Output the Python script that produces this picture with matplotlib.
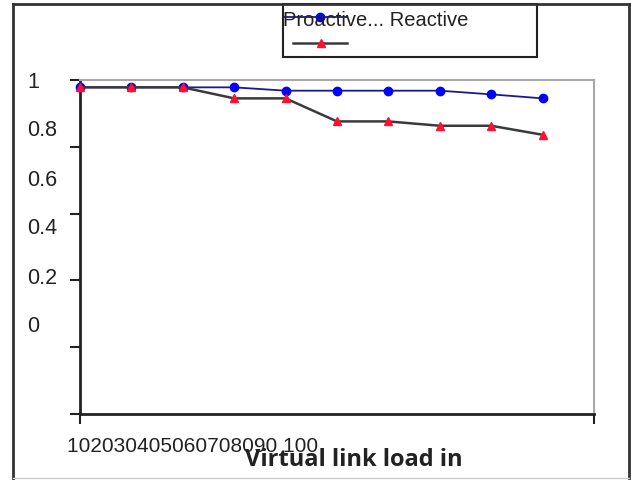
import matplotlib
matplotlib.use('Agg')
import matplotlib.pyplot as plt
from matplotlib.lines import Line2D
from matplotlib.patches import Rectangle

plt.rcParams['font.family'] = ['Liberation Sans', 'DejaVu Sans']

# data
x_pos = [0, 1, 2, 3, 4, 5, 6, 7, 8, 9]
proactive = [0.978, 0.978, 0.978, 0.978, 0.968, 0.968, 0.968, 0.968, 0.957, 0.945]
reactive = [0.978, 0.978, 0.978, 0.945, 0.945, 0.876, 0.876, 0.863, 0.863, 0.836]
x_labels = ['10', '20', '30', '40', '50', '60', '70', '80', '90', '100']
y_labels = ['1', '0.8', '0.6', '0.4', '0.2', '0']

W, H = 631, 481
fig = plt.figure(figsize=(W / 100, H / 100), dpi=100)

def px(x, y):
    """ pixel position (from top left) to figure fraction """
    return x / W, 1 - y / H

# outer frame
fig.add_artist(Line2D([13 / W, 13 / W], [px(0, 5)[1], px(0, 481)[1]], color='#333333', lw=2))
fig.add_artist(Line2D([13 / W, 629 / W], [px(0, 5)[1]] * 2, color='#333333', lw=2))
fig.add_artist(Line2D([629 / W, 629 / W], [px(0, 5)[1], px(0, 481)[1]], color='#333333', lw=2))
fig.add_artist(Line2D([13 / W, 629 / W], [px(0, 479)[1]] * 2, color='#cccccc', lw=1))

ax = fig.add_axes([80 / W, 1 - 415 / H, (594 - 80) / W, (415 - 81) / H])
ax.set_xlim(0, 10)
ax.set_ylim(0, 1)

ax.plot(x_pos, proactive, color='#1a1a8c', lw=1.3, marker='o', ms=6,
        mfc='#0000ff', mec='#0000ff', clip_on=False, zorder=3)
ax.plot(x_pos, reactive, color='#3a3a3a', lw=1.8, marker='^', ms=6,
        mfc='#ff1030', mec='#ff1030', clip_on=False, zorder=4)

for s in ['left', 'bottom']:
    ax.spines[s].set_color('#222222')
    ax.spines[s].set_linewidth(2)
for s in ['top', 'right']:
    ax.spines[s].set_color('#a8a8a8')
    ax.spines[s].set_linewidth(1.5)

ax.set_yticks([0, 0.2, 0.4, 0.6, 0.8, 1.0])
ax.set_xticks([0, 10])
ax.tick_params(axis='both', direction='out', length=7, width=1.5, color='#222222',
               labelleft=False, labelbottom=False)

# y labels sit off their ticks in the original
for i, lab in enumerate(y_labels):
    fig.text(27 / W, px(0, 82 + 49 * i)[1], lab, ha='left', va='center',
             fontsize=15.5, color='#222222')

# x labels run together
xlab = ''.join(x_labels[:-1]) + ' ' + x_labels[-1]
fig.text(67 / W, px(0, 446)[1], xlab, ha='left', va='center', fontsize=15, color='#222222')
fig.text(354 / W, px(0, 460)[1], 'Virtual link load in', ha='center', va='center',
         fontsize=17, fontweight='bold', family='Open Sans', color='#222222')

# legend box
fig.add_artist(Rectangle(px(283, 58), 254 / W, 53 / H, fill=False, ec='#222222', lw=1.5))
fig.text(283 / W, px(0, 20)[1], 'Proactive... Reactive', ha='left', va='center',
         fontsize=14.5, color='#222222')
fig.add_artist(Line2D([285 / W, 347 / W], [px(0, 18)[1]] * 2, color='#1a1a8c', lw=1.3))
fig.add_artist(Line2D([320 / W], [px(0, 18)[1]], marker='o', ms=6, color='#0000ff', lw=0))
fig.add_artist(Line2D([293 / W, 347 / W], [px(0, 44)[1]] * 2, color='#3a3a3a', lw=1.8))
fig.add_artist(Line2D([321 / W], [px(0, 44)[1]], marker='^', ms=6, color='#ff1030', lw=0))

fig.savefig('out.png', dpi=100)
